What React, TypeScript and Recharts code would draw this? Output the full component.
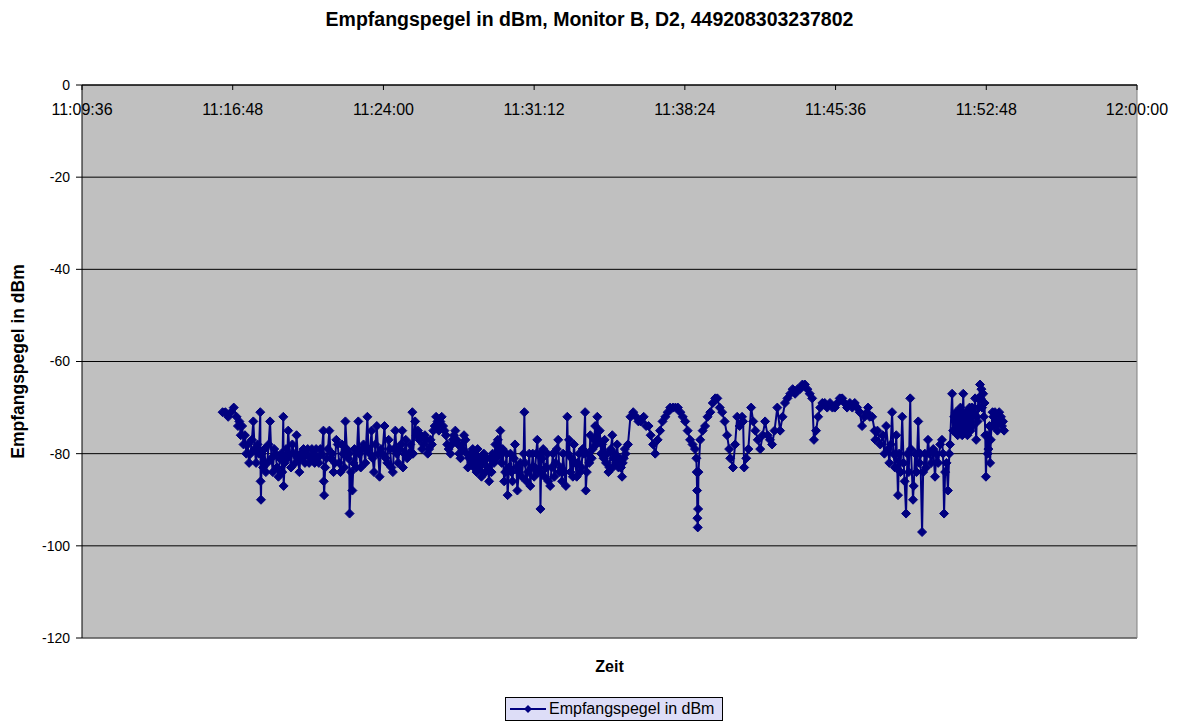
import React from 'react';
import { LineChart, Line, XAxis, YAxis, CartesianGrid, Legend, ReferenceLine } from 'recharts';

const chartTitle = 'Empfangspegel in dBm, Monitor B, D2, 449208303237802';
const seriesName = 'Empfangspegel in dBm';
const xTitle = 'Zeit';

// x tick positions: seconds after 11:09:36
const xTickSeconds = [0, 432, 864, 1296, 1728, 2160, 2592, 3024];
const xTickLabels = ['11:09:36', '11:16:48', '11:24:00', '11:31:12', '11:38:24', '11:45:36', '11:52:48', '12:00:00'];
const yTicks = [-120, -100, -80, -60, -40, -20, 0];

// sample times (seconds after 11:09:36) and received levels (dBm), in consecutive pieces
const timesA = [
  403, 411, 419, 427, 435, 443, 447, 451, 455, 459,
  463, 467, 471, 475, 479, 483, 487, 491, 495, 499,
  503, 507, 511, 512, 513, 515, 519, 523, 527, 531,
  535, 539, 543, 547, 551, 555, 559, 563, 567, 571,
  574, 577, 578, 581, 585, 588, 591, 595, 599, 603,
];
const levelsA = [
  -71, -71, -72, -71, -70, -72, -74, -73, -76, -74,
  -78, -76, -80, -78, -82, -80, -77, -73, -79, -82,
  -78, -80, -71, -86, -90, -80, -83, -79, -84, -82,
  -78, -73, -81, -84, -79, -80, -83, -85, -81, -80,
  -84, -72, -87, -82, -79, -81, -75, -80, -83, -78,
];

const timesB = [
  607, 611, 615, 619, 623, 627, 631, 635, 639, 643,
  647, 651, 655, 659, 663, 667, 671, 675, 679, 683,
  687, 692, 693, 694, 697, 701, 705, 709, 713, 717,
  721, 725, 729, 733, 737, 741, 745, 749, 752, 755,
  759, 763, 766, 767, 771, 775, 778, 781, 786, 792,
];
const levelsB = [
  -80, -82, -76, -81, -84, -80, -81, -79, -82, -80,
  -79, -82, -81, -79, -80, -82, -79, -81, -82, -79,
  -80, -75, -86, -89, -83, -81, -79, -75, -81, -80,
  -84, -82, -77, -78, -82, -84, -78, -80, -83, -73,
  -79, -81, -80, -93, -84, -88, -82, -79, -83, -73,
];

const timesC = [
  795, 799, 803, 807, 812, 818, 821, 825, 830, 833,
  837, 841, 845, 849, 853, 857, 861, 867, 871, 875,
  879, 883, 887, 891, 894, 898, 902, 906, 910, 914,
  918, 920, 924, 928, 932, 936, 941, 946, 947, 949,
];
const levelsC = [
  -80, -83, -79, -78, -82, -72, -79, -80, -75, -81,
  -84, -78, -74, -80, -85, -79, -80, -74, -81, -82,
  -77, -79, -83, -84, -79, -75, -80, -82, -79, -78,
  -75, -83, -80, -77, -81, -80, -78, -80, -71, -80,
];

const timesD = [
  955, 959, 963, 967, 971, 975, 979, 983, 987, 991,
  995, 999, 1003, 1007, 1011, 1015, 1019, 1023, 1027, 1031,
  1035, 1039, 1043, 1047, 1051, 1056, 1060, 1063, 1066, 1070,
  1074, 1078, 1081, 1085, 1088, 1092, 1095,
];
const levelsD = [
  -73, -76, -75, -77, -76, -79, -78, -76, -77, -80,
  -79, -77, -78, -75, -74, -72, -73, -75, -73, -72,
  -74, -75, -76, -78, -79, -80, -78, -77, -76, -75,
  -77, -78, -80, -81, -78, -79, -76,
];

const timesE = [
  1099, 1103, 1106, 1110, 1113, 1117, 1120, 1124, 1127, 1131,
  1134, 1138, 1141, 1145, 1148, 1152, 1156, 1160, 1163, 1167,
  1170, 1174, 1177, 1181, 1185, 1189, 1192, 1196, 1199, 1203,
  1206, 1210, 1213, 1217, 1220, 1224, 1228, 1231, 1234, 1238,
  1241, 1245, 1248, 1252, 1256, 1261, 1266, 1268, 1270, 1274,
];
const levelsE = [
  -77, -80, -83, -81, -80, -82, -79, -83, -80, -84,
  -79, -83, -81, -85, -82, -80, -84, -81, -83, -86,
  -81, -84, -80, -82, -78, -81, -77, -80, -75, -82,
  -79, -86, -84, -80, -89, -83, -80, -84, -86, -81,
  -78, -83, -88, -84, -82, -85, -80, -71, -82, -86,
];

const timesF = [
  1278, 1282, 1285, 1289, 1292, 1296, 1299, 1302, 1305, 1309,
  1313, 1314, 1316, 1319, 1322, 1326, 1330, 1334, 1337, 1342,
  1346, 1350, 1354, 1358, 1361, 1365, 1368, 1372, 1376, 1379,
  1383, 1387, 1391, 1393, 1396, 1400, 1403, 1407, 1410, 1414,
  1418, 1421, 1425, 1428, 1432, 1435, 1438, 1442, 1444, 1447,
];
const levelsF = [
  -84, -80, -87, -83, -80, -85, -83, -80, -77, -84,
  -80, -92, -84, -81, -79, -85, -83, -80, -86, -87,
  -83, -80, -85, -82, -79, -77, -84, -83, -86, -80,
  -84, -87, -72, -80, -77, -84, -81, -85, -78, -82,
  -85, -82, -80, -84, -83, -79, -80, -71, -88, -84,
];

const timesG = [
  1450, 1454, 1457, 1461, 1464, 1468, 1471, 1474, 1477, 1481,
  1484, 1488, 1491, 1495, 1498, 1502, 1505, 1509, 1512, 1516,
  1520, 1521, 1524, 1527, 1531, 1534, 1538, 1541, 1545, 1548,
  1550, 1553, 1556, 1558, 1565,
];
const levelsG = [
  -80, -82, -76, -81, -79, -77, -74, -78, -72, -77,
  -75, -80, -78, -81, -77, -82, -80, -84, -83, -79,
  -76, -83, -81, -80, -82, -78, -83, -81, -83, -85,
  -82, -81, -79, -80, -78,
];

const timesH = [
  1572, 1580, 1588, 1595, 1602, 1610, 1617, 1624, 1630, 1637,
  1643, 1650, 1657, 1664, 1672, 1679, 1686, 1694, 1701, 1708,
  1715, 1722, 1729, 1736, 1743, 1750, 1757, 1761, 1762, 1763,
  1764, 1765, 1766, 1767, 1772, 1779, 1786, 1793, 1801, 1808,
];
const levelsH = [
  -72, -71, -72, -73, -73, -72, -74, -74, -76, -78,
  -80, -77, -75, -73, -72, -71, -70, -70, -70, -70,
  -71, -72, -73, -75, -77, -78, -79, -81, -84, -88,
  -94, -96, -92, -84, -77, -75, -74, -72, -71, -69,
];

const timesI = [
  1815, 1821, 1828, 1835, 1842, 1849, 1855, 1858, 1866, 1872,
  1878, 1885, 1892, 1895, 1898, 1904, 1910, 1918, 1924, 1930,
  1937, 1944, 1951, 1958, 1965, 1972, 1978, 1985, 1993, 2001,
  2008, 2015, 2022, 2030, 2037, 2044, 2051, 2058, 2065, 2072,
  2079, 2086, 2093, 2098, 2104, 2110,
];
const levelsI = [
  -68, -68, -70, -71, -73, -76, -79, -81, -83, -78,
  -72, -74, -72, -73, -83, -81, -79, -70, -73, -75,
  -77, -79, -76, -73, -76, -77, -78, -75, -70, -75,
  -72, -69, -68, -67, -66, -67, -66, -66, -65, -65,
  -66, -67, -68, -77, -75, -72,
];

const timesJ = [
  2116, 2122, 2129, 2136, 2144, 2151, 2158, 2165, 2172, 2179,
  2186, 2193, 2201, 2208, 2215, 2222, 2229, 2236, 2243, 2250,
  2253, 2258, 2265, 2272, 2274, 2280, 2288, 2295, 2300, 2305,
];
const levelsJ = [
  -70, -69, -69, -70, -69, -70, -70, -69, -68, -68,
  -69, -70, -69, -70, -69, -70, -71, -74, -72, -71,
  -70, -72, -72, -75, -77, -75, -78, -76, -80, -74,
];

const timesK = [
  2311, 2314, 2318, 2322, 2326, 2330, 2334, 2339, 2342, 2346,
  2351, 2355, 2358, 2362, 2366, 2370, 2374, 2376, 2382, 2384,
  2388, 2392, 2397, 2400, 2403, 2408, 2411, 2416, 2420, 2425,
  2429, 2434, 2440, 2445, 2449, 2454, 2460, 2465, 2468, 2471,
  2474, 2478, 2482, 2486, 2488,
];
const levelsK = [
  -79, -82, -78, -71, -80, -83, -76, -89, -80, -84,
  -72, -82, -86, -93, -80, -84, -68, -79, -90, -87,
  -80, -84, -73, -82, -80, -97, -84, -80, -83, -77,
  -80, -82, -79, -85, -80, -82, -78, -77, -80, -93,
  -84, -82, -88, -80, -78,
];

const timesL = [
  2494, 2497, 2500, 2503, 2505, 2508, 2510, 2512, 2514, 2516,
  2518, 2520, 2523, 2526, 2528, 2530, 2533, 2535, 2538, 2540,
  2542, 2544, 2547, 2549, 2551, 2554, 2557, 2560, 2563, 2565,
  2567, 2569, 2571, 2574, 2576, 2578, 2580, 2583, 2585, 2587,
  2589, 2591, 2594, 2596, 2598, 2601, 2603, 2605, 2607, 2610,
  2612, 2614, 2617, 2620, 2622, 2624, 2626, 2629, 2631, 2634,
  2637, 2640, 2643,
];
const levelsL = [
  -67, -75, -72, -75, -71, -73, -76, -71, -75, -74,
  -70, -72, -76, -67, -74, -72, -75, -71, -76, -74,
  -71, -70, -75, -72, -70, -74, -71, -68, -77, -72,
  -73, -68, -70, -65, -68, -66, -70, -67, -72, -69,
  -76, -85, -76, -80, -79, -74, -82, -77, -74, -71,
  -72, -74, -71, -73, -72, -75, -73, -71, -73, -72,
  -74, -73, -75,
];

const seconds = [
  ...timesA, ...timesB, ...timesC, ...timesD, ...timesE, ...timesF,
  ...timesG, ...timesH, ...timesI, ...timesJ, ...timesK, ...timesL,
];
const levels = [
  ...levelsA, ...levelsB, ...levelsC, ...levelsD, ...levelsE, ...levelsF,
  ...levelsG, ...levelsH, ...levelsI, ...levelsJ, ...levelsK, ...levelsL,
];

const rows = seconds.map((t, i) => ({ t, level: levels[i] }));

const FONT = '"Liberation Sans", Arial, sans-serif';
const NAVY = '#000080';

const labelFor = (v: number) => {
  const i = xTickSeconds.indexOf(v);
  return i >= 0 ? xTickLabels[i] : '';
};

const Diamond = (props: any) => {
  const { cx, cy, index } = props;
  if (cx == null || cy == null) return <g key={`e${index}`} />;
  const r = 4.5;
  return (
    <polygon
      key={`d${index}`}
      points={`${cx},${cy - r} ${cx + r},${cy} ${cx},${cy + r} ${cx - r},${cy}`}
      fill={NAVY}
      stroke={NAVY}
      strokeWidth={1}
    />
  );
};

const TopTick = (props: any) => {
  const { x, y, payload } = props;
  return (
    <g>
      <line x1={x} y1={y} x2={x} y2={y + 5} stroke="#000" strokeWidth={1} />
      <text x={x} y={y + 30} textAnchor="middle" fontSize={16} fontFamily={FONT} fill="#000">
        {labelFor(payload.value)}
      </text>
    </g>
  );
};

const LegendBox = () => (
  <div
    style={{
      display: 'inline-flex',
      alignItems: 'center',
      border: '1px solid #000',
      background: '#DDDDF7',
      padding: '1px 8px 1px 4px',
      fontFamily: FONT,
      fontSize: 16,
      color: '#000',
      lineHeight: '20px',
      whiteSpace: 'nowrap',
    }}
  >
    <svg width={36} height={12} style={{ marginRight: 3 }}>
      <line x1={0} y1={6} x2={36} y2={6} stroke={NAVY} strokeWidth={2} />
      <polygon points="18,2 22,6 18,10 14,6" fill={NAVY} />
    </svg>
    <span>{seriesName}</span>
  </div>
);

export default function App() {
  return (
    <div style={{ position: 'absolute', left: 0, top: 0, width: 1179, height: 722, background: '#fff' }}>
      <div
        style={{
          position: 'absolute',
          left: 0,
          top: 8,
          width: 1179,
          textAlign: 'center',
          fontFamily: FONT,
          fontWeight: 'bold',
          fontSize: 19.5,
          lineHeight: '22px',
          color: '#000',
        }}
      >
        {chartTitle}
      </div>
      <LineChart width={1179} height={722} data={rows} margin={{ top: 55, right: 42, bottom: 54, left: 0 }}>
        <CartesianGrid xAxisId="top" vertical={false} stroke="#000" fill="#C0C0C0" />
        <XAxis
          xAxisId="top"
          orientation="top"
          type="number"
          dataKey="t"
          domain={[0, 3024]}
          ticks={xTickSeconds}
          interval={0}
          tickLine={false}
          tickSize={0}
          tickMargin={0}
          tick={<TopTick />}
          axisLine={{ stroke: '#000' }}
          height={30}
          allowDataOverflow
        />
        <XAxis
          xAxisId="zeit"
          orientation="bottom"
          type="number"
          domain={[0, 3024]}
          ticks={[]}
          tick={false}
          tickLine={false}
          axisLine={false}
          height={30}
          label={{ value: xTitle, position: 'insideTop', offset: 23, style: { fontFamily: FONT, fontWeight: 'bold', fontSize: 16, fill: '#000' } }}
        />
        <YAxis
          type="number"
          domain={[-120, 0]}
          ticks={yTicks}
          interval={0}
          width={82}
          tickSize={6}
          tickMargin={6}
          tickLine={{ stroke: '#000' }}
          axisLine={{ stroke: '#000' }}
          tick={{ fontSize: 14, fontFamily: FONT, fill: '#000' }}
          allowDataOverflow
          label={{
            value: seriesName,
            angle: -90,
            position: 'insideLeft',
            offset: 18,
            style: { textAnchor: 'middle', fontFamily: FONT, fontWeight: 'bold', fontSize: 17.5, fill: '#000' },
          }}
        />
        <ReferenceLine xAxisId="top" x={3024} stroke="#808080" />
        <ReferenceLine xAxisId="top" y={-120} stroke="#808080" />
        <Line
          xAxisId="top"
          type="linear"
          dataKey="level"
          name={seriesName}
          stroke={NAVY}
          strokeWidth={2}
          dot={(p: any) => <Diamond {...p} key={`dot${p.index}`} />}
          activeDot={false}
          isAnimationActive={false}
        />
        <Legend
          layout="horizontal"
          verticalAlign="middle"
          align="center"
          content={() => <LegendBox />}
          wrapperStyle={{ position: 'absolute', left: 505, top: 697, width: 'auto', height: 'auto' }}
        />
      </LineChart>
    </div>
  );
}
